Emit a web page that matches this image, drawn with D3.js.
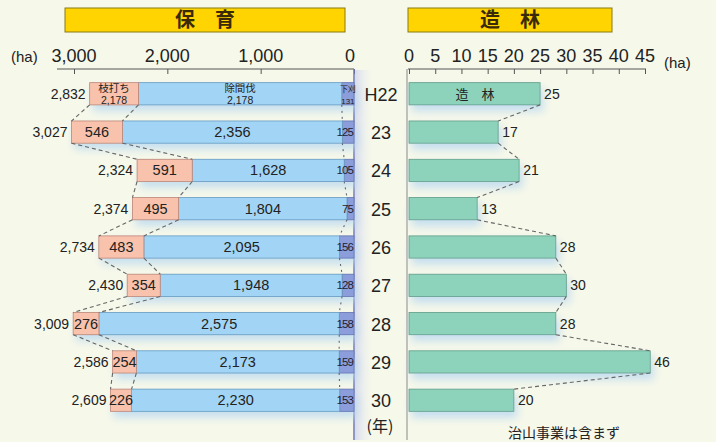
<!DOCTYPE html>
<html>
<head>
<meta charset="utf-8">
<script src="https://cdn.jsdelivr.net/npm/d3@7"></script>
<style>
  body { margin: 0; background: #f6f8ea; }
  svg text { font-family: "Liberation Sans", Arial, "Noto Sans CJK JP", sans-serif; fill: #222; }
  .jp { font-family: "Noto Sans CJK JP", sans-serif; }
</style>
</head>
<body>
<svg id="chart" width="716" height="442"></svg>
<script>
// data
var years = ["H22", "23", "24", "25", "26", "27", "28", "29", "30"];
var totals = [2832, 3027, 2324, 2374, 2734, 2430, 3009, 2586, 2609];
var prune = [523, 546, 591, 495, 483, 354, 276, 254, 226];        // 枝打ち
var pruneLabels = ["2,178", "546", "591", "495", "483", "354", "276", "254", "226"];
var thin = [2178, 2356, 1628, 1804, 2095, 1948, 2575, 2173, 2230]; // 除間伐
var weed = [131, 125, 105, 75, 156, 128, 158, 159, 153];           // 下刈
var planting = [25, 17, 21, 13, 28, 30, 28, 46, 20];               // 造林
var leftTicks = [0, 1000, 2000, 3000];
var rightTicks = [0, 5, 10, 15, 20, 25, 30, 35, 40, 45];

var svg = d3.select("#chart");
var fmt = d3.format(",");

// scales
var xl = d3.scaleLinear().domain([0, 3000]).range([354, 74]);
var xr = d3.scaleLinear().domain([0, 45]).range([409, 645]);
var y = d3.scaleBand().domain(years).range([75, 419]).paddingInner(0.42).paddingOuter(0.2);
var bh = y.bandwidth();

var defs = svg.append("defs");
var f = defs.append("filter").attr("id", "shadow").attr("x", "-10%").attr("y", "-30%").attr("width", "130%").attr("height", "200%");
f.append("feDropShadow").attr("dx", 3).attr("dy", 6).attr("stdDeviation", 4)
  .attr("flood-color", "#b8d8f0").attr("flood-opacity", 0.8);

var g1 = defs.append("linearGradient").attr("id", "vstrip").attr("x1", 0).attr("x2", 1);
g1.append("stop").attr("offset", 0).attr("stop-color", "#c4c8ee").attr("stop-opacity", 0.6);
g1.append("stop").attr("offset", 1).attr("stop-color", "#e8eef6").attr("stop-opacity", 0);

// headers
function header(x0, x1, label) {
  svg.append("rect").attr("x", x0).attr("y", 8).attr("width", x1 - x0).attr("height", 24)
    .attr("fill", "#ffd400").attr("stroke", "#8a7a10").attr("stroke-width", 1);
  svg.append("text").attr("class", "jp").attr("x", (x0 + x1) / 2).attr("y", 27)
    .attr("text-anchor", "middle").attr("font-size", 20).attr("font-weight", "bold")
    .style("fill", "#3a2a05").text(label);
}
header(65, 345, "保　育");
header(408, 612, "造　林");

// shadow strip beside the year axis
svg.append("rect").attr("x", 355).attr("y", 70).attr("width", 18).attr("height", 370).attr("fill", "url(#vstrip)");

// left axis
var axL = svg.append("g").attr("transform", "translate(0,69)")
  .call(d3.axisBottom(xl).tickValues(leftTicks).tickSize(5).tickFormat(""));
axL.select(".domain").attr("d", "M57,0H354").attr("stroke", "#555");
axL.selectAll(".tick line").attr("stroke", "#555");
svg.selectAll(".lt").data(leftTicks).enter().append("text")
  .attr("x", function(d) { return d === 0 ? xl(d) - 4 : xl(d); }).attr("y", 62)
  .attr("text-anchor", "middle").attr("font-size", 18).text(fmt);
svg.append("text").attr("x", 11).attr("y", 62).attr("font-size", 15).text("(ha)");

// right axis
var axR = svg.append("g").attr("transform", "translate(0,69)")
  .call(d3.axisBottom(xr).tickValues(rightTicks).tickSize(5).tickFormat(""));
axR.select(".domain").attr("d", "M408,0H646").attr("stroke", "#555");
axR.selectAll(".tick line").attr("stroke", "#555");
svg.selectAll(".rt").data(rightTicks).enter().append("text")
  .attr("x", function(d) { return xr(d); }).attr("y", 62)
  .attr("text-anchor", "middle").attr("font-size", 18).text(function(d) { return d; });
svg.append("text").attr("x", 664).attr("y", 68).attr("font-size", 15).text("(ha)");

// vertical lines
svg.append("line").attr("x1", 354).attr("x2", 354).attr("y1", 69).attr("y2", 440)
  .attr("stroke", "#6d78b8").attr("stroke-width", 1.5);
svg.append("line").attr("x1", 407).attr("x2", 407).attr("y1", 69).attr("y2", 440)
  .attr("stroke", "#888").attr("stroke-width", 1);

// left stacked bars
var rows = years.map(function(yr, i) {
  return { yr: yr, i: i, weed: weed[i], thin: thin[i], prune: prune[i], total: totals[i] };
});

var gl = svg.append("g");
gl.selectAll(".sh").data(rows).enter().append("rect")
  .attr("x", function(d) { return xl(d.total); }).attr("y", function(d) { return y(d.yr); })
  .attr("width", function(d) { return xl(0) - xl(d.total); }).attr("height", bh)
  .attr("fill", "#a2d5f5").attr("filter", "url(#shadow)");

function seg(cls, a, b, fill, stroke) {
  gl.selectAll("." + cls).data(rows).enter().append("rect")
    .attr("x", function(d) { return xl(b(d)); }).attr("y", function(d) { return y(d.yr); })
    .attr("width", function(d) { return xl(a(d)) - xl(b(d)); }).attr("height", bh)
    .attr("fill", fill).attr("stroke", stroke).attr("stroke-width", 0.8);
}
seg("wd", function() { return 0; }, function(d) { return d.weed; }, "#8b9edb", "#6674b0");
seg("th", function(d) { return d.weed; }, function(d) { return d.weed + d.thin; }, "#a2d5f5", "#6a9cc0");
seg("pr", function(d) { return d.weed + d.thin; }, function(d) { return d.total; }, "#f8c2ac", "#c08878");

// dashed connectors (left)
function connector(g, xf, color, dash) {
  g.selectAll(null).data(rows.slice(0, -1)).enter().append("line")
    .attr("x1", function(d) { return xf(d.i); }).attr("y1", function(d) { return y(d.yr) + bh; })
    .attr("x2", function(d) { return xf(d.i + 1); }).attr("y2", function(d) { return y(years[d.i + 1]); })
    .attr("stroke", color).attr("stroke-width", 1.1).attr("stroke-dasharray", dash);
}
connector(gl, function(i) { return xl(totals[i]); }, "#666", "4,3");
connector(gl, function(i) { return xl(weed[i] + thin[i]); }, "#666", "4,3");
connector(gl, function(i) { return xl(weed[i]); }, "#667", "2,4");

// labels left
gl.selectAll(".tl").data(rows).enter().append("text")
  .attr("x", function(d) { return xl(d.total) - 4; }).attr("y", function(d) { return y(d.yr) + bh / 2 + 5; })
  .attr("text-anchor", "end").attr("font-size", 14).text(function(d) { return fmt(d.total); });

var rest = rows.slice(1);
gl.selectAll(".pl").data(rest).enter().append("text")
  .attr("x", function(d) { return (xl(d.total) + xl(d.weed + d.thin)) / 2; })
  .attr("y", function(d) { return y(d.yr) + bh / 2 + 5; })
  .attr("text-anchor", "middle").attr("font-size", 14.5).text(function(d) { return pruneLabels[d.i]; });
gl.selectAll(".hl").data(rest).enter().append("text")
  .attr("x", function(d) { return (xl(d.weed) + xl(d.weed + d.thin)) / 2; })
  .attr("y", function(d) { return y(d.yr) + bh / 2 + 5; })
  .attr("text-anchor", "middle").attr("font-size", 14.5).text(function(d) { return fmt(d.thin); });
gl.selectAll(".wl").data(rest).enter().append("text")
  .attr("x", 353).attr("y", function(d) { return y(d.yr) + bh / 2 + 4; })
  .attr("text-anchor", "end").attr("font-size", 11.5).attr("letter-spacing", -0.9)
  .style("fill", "#223").text(function(d) { return d.weed; });

// H22 two-line labels
var r0 = rows[0], yt = y(r0.yr);
function twoLine(x, top, bottom, size) {
  gl.append("text").attr("class", "jp").attr("x", x).attr("y", yt + 9.5).attr("text-anchor", "middle")
    .attr("font-size", size).text(top);
  gl.append("text").attr("x", x).attr("y", yt + 21).attr("text-anchor", "middle")
    .attr("font-size", size).text(bottom);
}
twoLine((xl(r0.total) + xl(r0.weed + r0.thin)) / 2, "枝打ち", pruneLabels[0], 10.5);
twoLine((xl(r0.weed) + xl(r0.weed + r0.thin)) / 2, "除間伐", fmt(r0.thin), 10.5);
twoLine((xl(0) + xl(r0.weed)) / 2, "下刈", r0.weed, 8);

// year labels
svg.selectAll(".yl").data(years).enter().append("text")
  .attr("x", 381).attr("y", function(d) { return y(d) + bh / 2 + 7; })
  .attr("text-anchor", "middle").attr("font-size", 18).text(function(d) { return d; });
svg.append("text").attr("class", "jp").attr("x", 380).attr("y", 432).attr("text-anchor", "middle")
  .attr("font-size", 16).text("(年)");

// right bars
var gr = svg.append("g");
gr.selectAll(".pb").data(rows).enter().append("rect")
  .attr("x", xr(0)).attr("y", function(d) { return y(d.yr); })
  .attr("width", function(d) { return xr(planting[d.i]) - xr(0); }).attr("height", bh)
  .attr("fill", "#8dd3bb").attr("stroke", "#5e9c88").attr("stroke-width", 0.8)
  .attr("filter", "url(#shadow)");
connector(gr, function(i) { return xr(planting[i]); }, "#666", "4,3");
gr.selectAll(".pv").data(rows).enter().append("text")
  .attr("x", function(d) { return xr(planting[d.i]) + 4; })
  .attr("y", function(d) { return y(d.yr) + bh / 2 + 5; })
  .attr("font-size", 14).text(function(d) { return planting[d.i]; });
gr.append("text").attr("class", "jp").attr("x", 475).attr("y", yt + bh / 2 + 5)
  .attr("text-anchor", "middle").attr("font-size", 13).text("造　林");

svg.append("text").attr("class", "jp").attr("x", 564).attr("y", 438).attr("text-anchor", "middle")
  .attr("font-size", 14).text("治山事業は含まず");
</script>
</body>
</html>
